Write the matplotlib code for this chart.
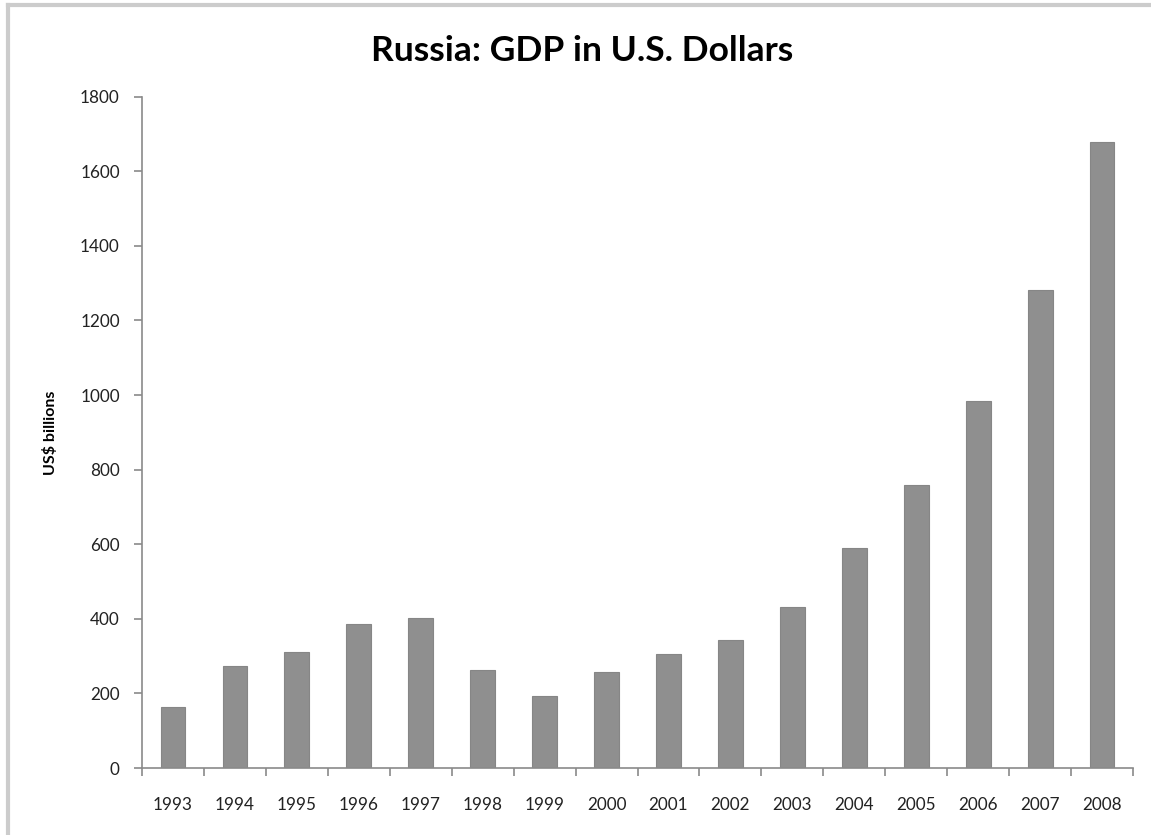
import matplotlib
matplotlib.use("Agg")
import matplotlib.pyplot as plt
from matplotlib.lines import Line2D

# Russia GDP, US$ billions
years = ["1993", "1994", "1995", "1996", "1997", "1998", "1999", "2000",
         "2001", "2002", "2003", "2004", "2005", "2006", "2007", "2008"]
gdp = [164, 274, 310, 386, 402, 262, 194, 258,
       305, 342, 431, 589, 760, 985, 1282, 1679]
yticks = [0, 200, 400, 600, 800, 1000, 1200, 1400, 1600, 1800]

plt.rcParams['font.family'] = ['Lato', 'DejaVu Sans']

fig = plt.figure(figsize=(11.51, 8.35), dpi=100)
ax = fig.add_axes([0.1234, 0.0802, 0.8610, 0.8040])

x = range(len(years))
ax.bar(x, gdp, width=0.40, color="#8f8f8f", edgecolor="#868686", linewidth=0.8)

axis_col = "#8a8a8a"
ax.set_xlim(-0.5, len(years) - 0.5)
ax.set_ylim(0, 1800)
ax.set_yticks(yticks)
ax.set_yticklabels([str(v) for v in yticks], fontsize=12.3, color="#222222")
ax.set_xticks([i - 0.5 for i in range(len(years) + 1)], minor=False)
ax.set_xticklabels([])
ax.set_xticks(list(x), minor=True)
ax.set_xticklabels(years, minor=True, fontsize=12.3, color="#222222")
ax.tick_params(axis="x", which="major", direction="out", length=6,
               color=axis_col, width=1.2)
ax.tick_params(axis="x", which="minor", length=0, pad=21)
ax.tick_params(axis="y", direction="out", length=6, color=axis_col,
               width=1.2, pad=10)

for side in ["top", "right"]:
    ax.spines[side].set_visible(False)
for side in ["left", "bottom"]:
    ax.spines[side].set_color(axis_col)
    ax.spines[side].set_linewidth(1.2)

ax.set_ylabel("US$ billions", fontsize=11.5, fontweight="bold", labelpad=16)
fig.text(0.506, 0.939, "Russia: GDP in U.S. Dollars", ha="center",
         va="center", fontsize=25.5, fontweight="bold")

# light gray frame along top and left edges
fig.add_artist(Line2D([8 / 1151, 1.0], [1 - 5 / 835, 1 - 5 / 835],
                      transform=fig.transFigure, color="#cccccc", lw=3))
fig.add_artist(Line2D([8 / 1151, 8 / 1151], [0, 1 - 5 / 835],
                      transform=fig.transFigure, color="#cccccc", lw=3))

fig.savefig("out.png", dpi=100)
